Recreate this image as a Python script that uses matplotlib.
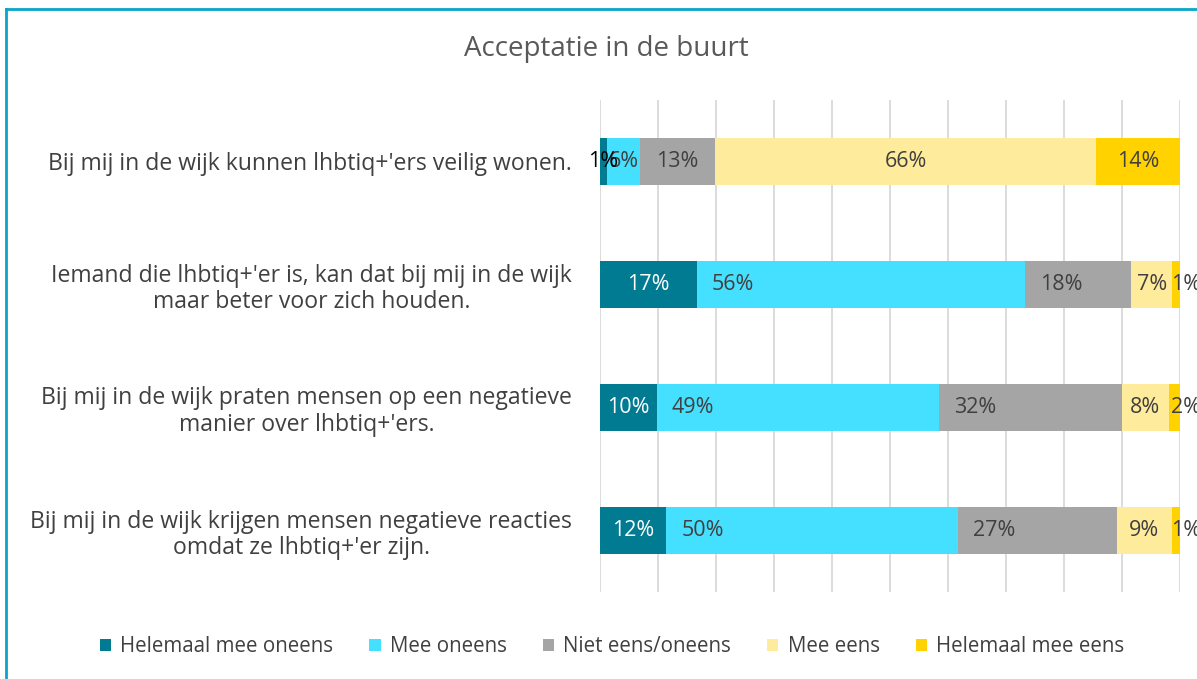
import matplotlib
matplotlib.use("Agg")
import matplotlib.pyplot as plt
from matplotlib.lines import Line2D
import numpy as np

plt.rcParams['font.family'] = ['Open Sans', 'DejaVu Sans']

categories = [
    "Bij mij in de wijk kunnen lhbtiq+'ers veilig wonen.",
    "Iemand die lhbtiq+'er is, kan dat bij mij in de wijk\nmaar beter voor zich houden.",
    "Bij mij in de wijk praten mensen op een negatieve\nmanier over lhbtiq+'ers.",
    "Bij mij in de wijk krijgen mensen negatieve reacties\nomdat ze lhbtiq+'er zijn.",
]
series_names = ["Helemaal mee oneens", "Mee oneens", "Niet eens/oneens", "Mee eens", "Helemaal mee eens"]
helemaal_oneens = [1.2, 16.7, 9.8, 11.4]
mee_oneens = [5.7, 56.5, 48.6, 50.3]
niet_eens = [13.0, 18.4, 31.6, 27.4]
mee_eens = [65.7, 7.1, 8.1, 9.5]
helemaal_eens = [14.4, 1.3, 1.9, 1.4]
label_texts = [
    ["1%", "17%", "10%", "12%"],
    ["6%", "56%", "49%", "50%"],
    ["13%", "18%", "32%", "27%"],
    ["66%", "7%", "8%", "9%"],
    ["14%", "1%", "2%", "1%"],
]
colors = ["#017B91", "#45DFFF", "#A5A5A5", "#FFEB9C", "#FFD200"]
text_colors = ["#FFFFFF", "#404040", "#404040", "#404040", "#404040"]

data = [helemaal_oneens, mee_oneens, niet_eens, mee_eens, helemaal_eens]

W, H = 1197, 679
fig = plt.figure(figsize=(W / 100, H / 100), dpi=100)
ax = fig.add_axes([600 / W, 1 - 592 / H, 580 / W, 492 / H])

LFS = 15.5
y = np.arange(len(categories))
left = np.zeros(len(categories))
for i, (vals, name, col) in enumerate(zip(data, series_names, colors)):
    vals = np.array(vals)
    ax.barh(y, vals, left=left, height=0.39, color=col, label=name, zorder=3)
    for j in range(len(categories)):
        txt = label_texts[i][j]
        tc = text_colors[i]
        if i == 0 and j == 0:
            tc = "#000000"
        if i in (1, 2) and j > 0:
            ax.text(left[j] + 2.6, y[j], txt, ha='left', va='center',
                    fontsize=LFS, color=tc, zorder=4)
        elif i == 4 and j > 0:
            ax.text(left[j] + vals[j] + 1.0, y[j], txt, ha='center', va='center',
                    fontsize=LFS, color=tc, zorder=4, clip_on=False)
        elif i == 0 and j == 0:
            ax.text(left[j] + vals[j] / 2, y[j], txt, ha='center', va='center',
                    fontsize=LFS, color=tc, zorder=5, clip_on=False)
        else:
            ax.text(left[j] + vals[j] / 2, y[j], txt, ha='center', va='center',
                    fontsize=LFS, color=tc, zorder=4)
    left += vals

ax.set_xlim(0, 100)
ax.set_ylim(len(categories) - 0.5, -0.5)
ax.set_xticks(np.arange(0, 101, 10))
ax.set_xticklabels([])
ax.tick_params(axis='x', length=0)
ax.tick_params(axis='y', length=0, pad=20)
ax.xaxis.grid(True, color='#D9D9D9', linewidth=1.3, zorder=0)
ax.set_yticks(y)
ax.set_yticklabels(categories, fontsize=16.6, color='#404040', multialignment='center',
                   linespacing=1.15)
for s in ax.spines.values():
    s.set_visible(False)

fig.text(606 / W, 1 - 49 / H, "Acceptatie in de buurt", ha='center', va='center',
         fontsize=20, color='#595959')

handles, labels = ax.get_legend_handles_labels()
fig.legend(handles, labels, loc='center', bbox_to_anchor=(612 / W, 1 - 647 / H), ncol=5,
           frameon=False, fontsize=14.8, handlelength=0.55, handleheight=0.55,
           handletextpad=0.45, columnspacing=1.75, labelcolor='#404040')

# outer chart frame (cut off at right and bottom)
fig.add_artist(Line2D([6 / W, 6 / W], [0, 1 - 9 / H], transform=fig.transFigure,
                      color='#0AA5C8', linewidth=2))
fig.add_artist(Line2D([6 / W, 1], [1 - 9 / H, 1 - 9 / H], transform=fig.transFigure,
                      color='#0AA5C8', linewidth=2))

fig.savefig("out.png", dpi=100)
